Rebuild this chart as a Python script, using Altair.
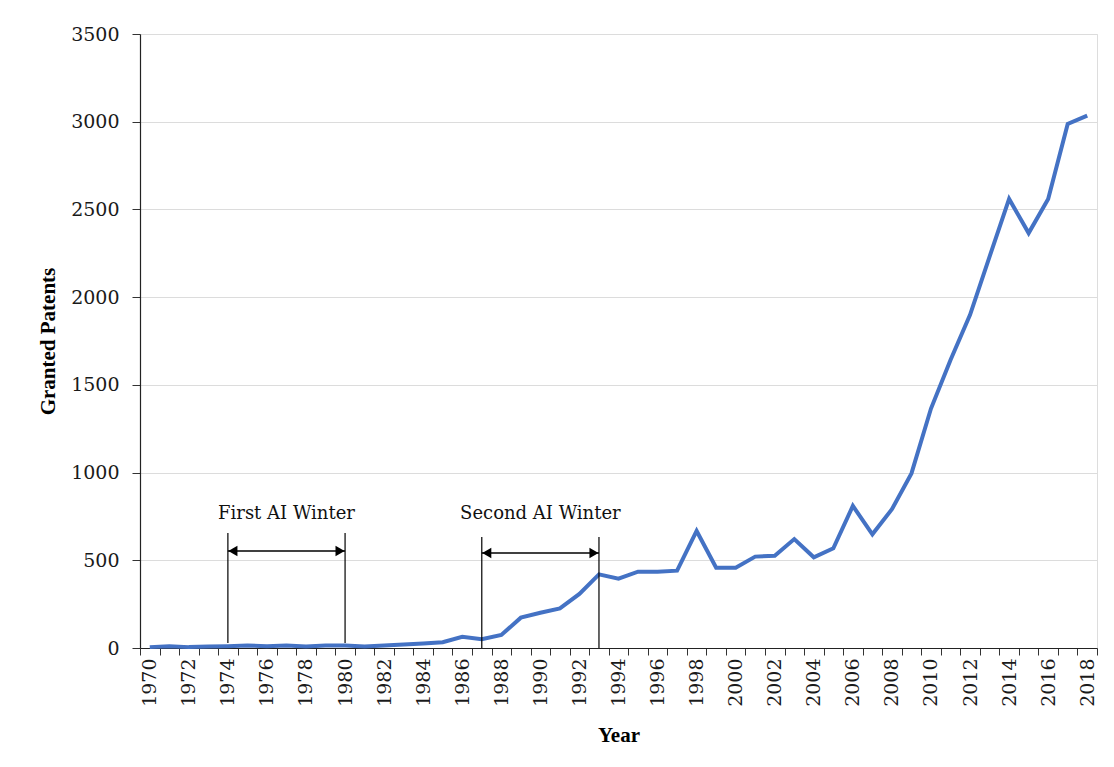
import altair as alt
import pandas as pd

years = list(range(1970, 2019))
patents = [5, 10, 5, 8, 10, 14, 10, 14, 9, 14, 14, 9, 14, 20, 26, 33, 64, 50, 74, 173,
           201, 226, 308, 420, 395, 435, 435, 441, 667, 458, 458, 521, 526, 621, 517, 568,
           810, 648, 791, 995, 1365, 1642, 1899, 2231, 2560, 2365, 2560, 2987, 3035]

winter_names = ["First AI Winter", "Second AI Winter"]
winter_start = [1974, 1987]
winter_end = [1980, 1993]
winter_bottom = [28, 0]
winter_top = [656, 633]
arrow_y = [553, 542]
label_y = [765, 765]

y_ticks = [0, 500, 1000, 1500, 2000, 2500, 3000, 3500]
boundaries = [y + 0.5 for y in range(1969, 2019)]

df = pd.DataFrame({"Year": years, "Patents": patents})
wdf = pd.DataFrame({"name": winter_names, "start": winter_start, "end": winter_end,
                    "bottom": winter_bottom, "top": winter_top, "arrow": arrow_y,
                    "label": label_y})
wdf["mid"] = (wdf["start"] + wdf["end"]) / 2

xscale = alt.Scale(domain=[1969.5, 2018.5], nice=False, zero=False)
yscale = alt.Scale(domain=[0, 3500], nice=False)

serif = "DejaVu Serif"
title_font = "Liberation Serif"

x_axis = alt.Axis(
    title="Year", values=boundaries,
    labelExpr="(round(datum.value - 0.5) % 2 == 0) ? format(datum.value - 0.5, 'd') : ''",
    labelAngle=-90, labelAlign="right", labelBaseline="middle", labelOffset=-9.8,
    labelFont=serif, labelFontSize=19, labelColor="#1a1a1a", labelOverlap=False,
    labelSeparation=0, labelBound=False, labelFlush=False,
    labelPadding=3, tickSize=7, tickColor="#333", domainColor="#222", domainWidth=1.2,
    grid=False, titleFont=title_font, titleFontSize=21, titleFontWeight="bold",
    titleColor="#000", titlePadding=18,
)
y_axis = alt.Axis(
    title="Granted Patents", values=y_ticks, format="d",
    labelFont=serif, labelFontSize=19, labelColor="#1a1a1a", labelPadding=13,
    tickSize=8, tickColor="#333", domainColor="#222", domainWidth=1.2,
    grid=True, gridColor="#dcdcdc", gridWidth=1,
    titleFont=title_font, titleFontSize=21, titleFontWeight="bold", titleColor="#000",
    titlePadding=12,
)


def X(field):
    return alt.X(field, type="quantitative", scale=xscale, axis=x_axis)


def Y(field):
    return alt.Y(field, type="quantitative", scale=yscale, axis=y_axis)


line = alt.Chart(df).mark_line(color="#4472C4", strokeWidth=4, strokeJoin="miter").encode(
    x=X("Year"), y=Y("Patents"))

base = alt.Chart(wdf)
vstart = base.mark_rule(color="#000", strokeWidth=1.2).encode(
    x=X("start"), y=Y("bottom"), y2="top:Q")
vend = base.mark_rule(color="#000", strokeWidth=1.2).encode(
    x=X("end"), y=Y("bottom"), y2="top:Q")
arrow = base.mark_rule(color="#000", strokeWidth=1.5).encode(
    x=X("start"), x2="end:Q", y=Y("arrow"))
head_l = base.mark_point(shape="triangle-left", filled=True, color="#000", size=110,
                         opacity=1, xOffset=5).encode(x=X("start"), y=Y("arrow"))
head_r = base.mark_point(shape="triangle-right", filled=True, color="#000", size=110,
                         opacity=1, xOffset=-5).encode(x=X("end"), y=Y("arrow"))
labels = base.mark_text(font=serif, fontSize=18, color="#111", baseline="middle").encode(
    x=X("mid"), y=Y("label"), text="name:N")

chart = alt.layer(line, vstart, vend, arrow, head_l, head_r, labels).properties(
    width=1094, height=748,
    autosize=alt.AutoSizeParams(type="fit", contains="padding"),
    padding={"left": 29, "top": 17, "right": 4, "bottom": 10},
).configure_view(stroke=None).configure(background="white")

chart.save("out.html", embed_options={"renderer": "svg", "actions": False})
